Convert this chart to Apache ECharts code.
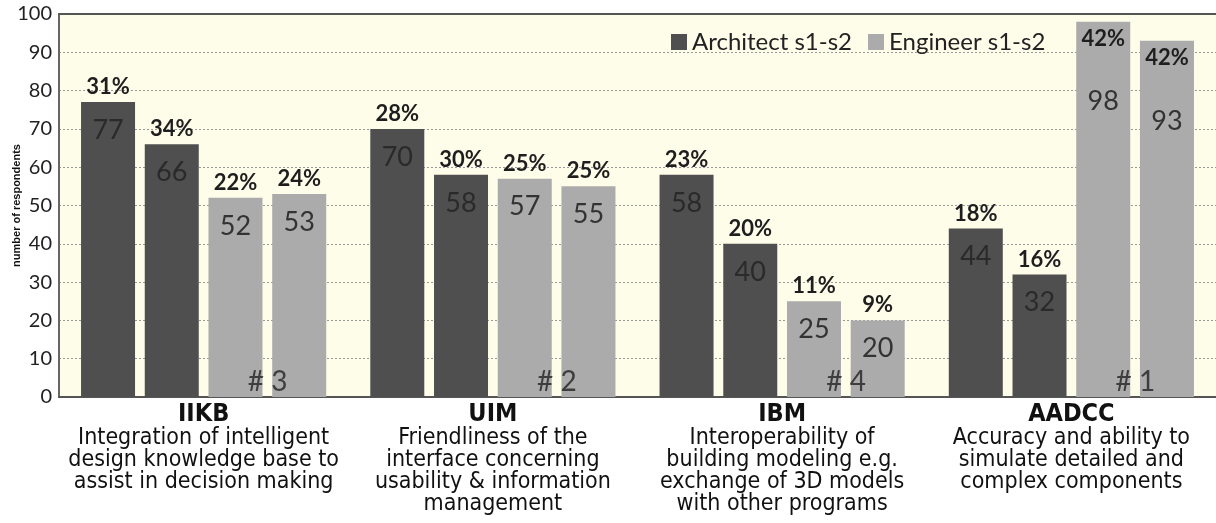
<!DOCTYPE html>
<html>
<head>
<meta charset="utf-8">
<script src="https://cdn.jsdelivr.net/npm/echarts@6/dist/echarts.min.js"></script>
<style>
  html, body { margin: 0; padding: 0; background: #fff; }
  #chart { width: 1216px; height: 523px; }
</style>
</head>
<body>
<div id="chart"></div>
<script>
// chart data
var categories = ["IIKB", "UIM", "IBM", "AADCC"];
var descriptions = [
  ["Integration of intelligent", "design knowledge base to", "assist in decision making"],
  ["Friendliness of the", "interface concerning", "usability & information", "management"],
  ["Interoperability of", "building modeling e.g.", "exchange of 3D models", "with other programs"],
  ["Accuracy and ability to", "simulate detailed and", "complex components"]
];
var architectS1 = [77, 70, 58, 44];
var architectS2 = [66, 58, 40, 32];
var engineerS1 = [52, 57, 25, 98];
var engineerS2 = [53, 55, 20, 93];
var architectS1Pct = ["31%", "28%", "23%", "18%"];
var architectS2Pct = ["34%", "30%", "20%", "16%"];
var engineerS1Pct = ["22%", "25%", "11%", "42%"];
var engineerS2Pct = ["24%", "25%", "9%", "42%"];
var ranks = ["# 3", "# 2", "# 4", "# 1"];
var rankY = [4, 4, 4, 4];

var DARK = "#4f4f4f";
var LIGHT = "#ababab";
var FONT = "Lato, 'Open Sans', sans-serif";
var NARROW = "'Liberation Sans Narrow', 'DejaVu Sans Condensed', sans-serif";

function richFor(valueColor, vLine) {
  return {
    p: { fontFamily: FONT, fontWeight: "bold", fontSize: 22, color: "#1e1e1e", lineHeight: 30, align: "center" },
    v: { fontFamily: FONT, fontSize: 27, color: valueColor, lineHeight: vLine, align: "center" }
  };
}

function barSeries(name, values, pcts, color, valueColor) {
  // tall bars near the top get their labels inside the bar
  var items = values.map(function (v) {
    if (v < 90) return v;
    return { value: v, label: { offset: [0, 2], rich: richFor(valueColor, 96) } };
  });
  return {
    name: name,
    type: "bar",
    data: items,
    barWidth: 54,
    barGap: "18%",
    itemStyle: { color: color },
    label: {
      show: true,
      position: "insideTop",
      distance: 0,
      offset: [0, -30],
      formatter: function (p) {
        return "{p|" + pcts[p.dataIndex] + "}\n{v|" + p.value + "}";
      },
      rich: richFor(valueColor, 56)
    }
  };
}

var chart = echarts.init(document.getElementById("chart"));
chart.setOption({
  animation: false,
  backgroundColor: "#ffffff",
  grid: {
    left: 59, right: 0, top: 14, bottom: 126,
    containLabel: false,
    outerBoundsMode: "none",
    show: true, backgroundColor: "#fefde9", borderWidth: 0
  },
  legend: {
    data: ["Architect s1-s2", "Engineer s1-s2"],
    left: 666, top: 25,
    itemWidth: 16, itemHeight: 16, itemGap: 16,
    icon: "rect",
    textStyle: { fontFamily: FONT, fontSize: 24, color: "#222" }
  },
  xAxis: [{
    type: "category",
    data: categories,
    axisLine: { lineStyle: { color: "#555", width: 2 } },
    axisTick: { show: false },
    axisLabel: {
      interval: 0,
      margin: 4,
      formatter: function (v, i) {
        return "{t|" + v + "}\n" + descriptions[i].map(function (d) { return "{d|" + d + "}"; }).join("\n");
      },
      rich: {
        t: { fontFamily: NARROW, fontWeight: "bold", fontSize: 25, color: "#111", lineHeight: 26, align: "center" },
        d: { fontFamily: NARROW, fontSize: 23, color: "#111", lineHeight: 22, align: "center" }
      }
    }
  }, {
    type: "category",
    position: "top",
    data: categories,
    axisLine: { lineStyle: { color: "#555", width: 2 } },
    axisTick: { show: false },
    axisLabel: { show: false }
  }],
  yAxis: {
    type: "value",
    min: 0, max: 100, interval: 10,
    name: "number of respondents",
    nameLocation: "middle",
    nameGap: 37,
    nameMoveOverlap: false,
    nameTextStyle: { fontFamily: "'Liberation Sans', Arial, sans-serif", fontWeight: "bold", fontSize: 11, color: "#111" },
    axisLine: { show: true, lineStyle: { color: "#666", width: 2 } },
    axisTick: { show: false },
    axisLabel: { fontFamily: FONT, fontSize: 20, color: "#222", margin: 7 },
    splitLine: { lineStyle: { color: "#999", type: [2, 2], width: 1 } }
  },
  series: [
    barSeries("Architect s1-s2", architectS1, architectS1Pct, DARK, "#2a2a2a"),
    barSeries("Architect s1-s2", architectS2, architectS2Pct, DARK, "#2a2a2a"),
    barSeries("Engineer s1-s2", engineerS1, engineerS1Pct, LIGHT, "#333"),
    barSeries("Engineer s1-s2", engineerS2, engineerS2Pct, LIGHT, "#333"),
    {
      name: "rank",
      type: "scatter",
      data: rankY,
      symbolSize: 0,
      silent: true,
      z: 5,
      label: {
        show: true,
        position: "inside",
        offset: [64, 0],
        formatter: function (p) { return ranks[p.dataIndex]; },
        fontFamily: FONT,
        fontSize: 28,
        color: "#222"
      }
    }
  ]
});
</script>
</body>
</html>
